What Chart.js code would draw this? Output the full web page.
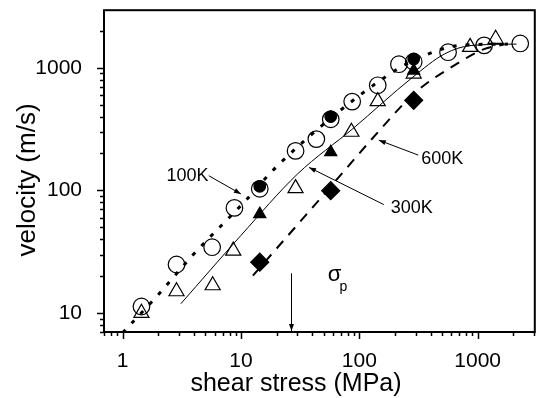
<!DOCTYPE html>
<html>
<head>
<meta charset="utf-8">
<script src="https://cdn.jsdelivr.net/npm/chart.js"></script>
<style>
  body { margin: 0; background: #fff; }
  canvas { display: block; }
</style>
</head>
<body>
<canvas id="myChart" width="545" height="398"></canvas>
<script>
// measured points (shear stress in MPa, velocity in m/s)
const openCircleX = [1.44, 2.85, 5.7, 8.8, 14.4, 28.9, 43.3, 57.3, 87, 143, 216, 288, 562, 1135, 2290];
const openCircleY = [11.3, 24.9, 34.4, 72, 103, 210, 262, 380, 530, 720, 1070, 1120, 1340, 1525, 1580];
const filledCircleX = [14.4, 57.3, 288];
const filledCircleY = [108, 400, 1180];
const openTriangleX = [1.44, 2.85, 5.76, 8.6, 28.9, 85.7, 143, 288, 863, 1419];
const openTriangleY = [10, 15, 16.8, 32.2, 104, 300, 533, 895, 1475, 1720];
const filledTriangleX = [14.4, 57.3, 288];
const filledTriangleY = [64, 205, 950];
const diamondX = [14.4, 57.3, 288];
const diamondY = [26, 99.5, 543];

// fitted curves
const fit100X = [1.0, 2.05, 3.88, 10.8, 21, 178, 360, 730, 1800];
const fit100Y = [6.9, 14.5, 29.4, 81.5, 164, 883, 1268, 1530, 1560];
const fit300X = [3.1, 10, 30, 88.5, 279, 527, 880, 2130];
const fit300Y = [11.9, 43, 136, 320, 830, 1300, 1520, 1560];
const fit600X = [12.6, 47.9, 147, 296, 680, 1130, 1660];
const fit600Y = [20.2, 88, 306, 627, 1090, 1420, 1550];

const xTicks = [1, 10, 100, 1000];
const yTicks = [10, 100, 1000];

// annotations, in data coordinates
const curveLabels = ['100K', '300K', '600K'];
const curveLabelAt = [[2.34, 131.7], [184, 72.3], [333, 181]];
const arrowFrom = [[5.34, 131.7], [161, 76.6], [315, 194]];
const arrowTo = [[9.98, 93.5], [37.6, 154], [146, 257]];
const sigmaP = 26.3;

const FONT = "'Liberation Sans', Arial, Helvetica, sans-serif";
Chart.defaults.color = '#000';
Chart.defaults.font.family = FONT;

function pts(xs, ys) {
    return xs.map((x, i) => ({x: x, y: ys[i]}));
}

function marker(xs, ys, style, r, filled) {
    return {
        data: pts(xs, ys),
        pointStyle: style,
        pointRadius: r,
        pointBorderWidth: 1.2,
        pointBorderColor: '#000',
        pointBackgroundColor: filled ? '#000' : 'rgba(0,0,0,0)',
        showLine: false
    };
}

function curve(xs, ys, width, dash) {
    return {
        data: pts(xs, ys),
        showLine: true,
        borderColor: '#000',
        borderWidth: width,
        borderDash: dash,
        pointRadius: 0,
        cubicInterpolationMode: 'monotone'
    };
}

function isDecade(v) {
    const l = Math.log10(v);
    return Math.abs(l - Math.round(l)) < 1e-9;
}

function arrow(ctx, x1, y1, x2, y2) {
    ctx.beginPath();
    ctx.moveTo(x1, y1);
    ctx.lineTo(x2, y2);
    ctx.stroke();
    const a = Math.atan2(y2 - y1, x2 - x1);
    const len = 7, half = 2.5;
    ctx.beginPath();
    ctx.moveTo(x2, y2);
    ctx.lineTo(x2 - len * Math.cos(a) + half * Math.sin(a), y2 - len * Math.sin(a) - half * Math.cos(a));
    ctx.lineTo(x2 - len * Math.cos(a) - half * Math.sin(a), y2 - len * Math.sin(a) + half * Math.cos(a));
    ctx.closePath();
    ctx.fill();
}

const extras = {
    id: 'extras',
    afterDraw(chart) {
        const {ctx, chartArea: a} = chart;
        const x = chart.scales.x, y = chart.scales.y;
        ctx.save();
        ctx.strokeStyle = '#000';
        ctx.fillStyle = '#000';

        // frame
        ctx.lineWidth = 2;
        ctx.strokeRect(a.left, a.top, a.right - a.left, a.bottom - a.top);

        // log ticks, outside
        ctx.lineWidth = 1.5;
        ctx.beginPath();
        for (let e = -1; e <= 3; e++) {
            for (let m = 1; m <= 9; m++) {
                const v = m * Math.pow(10, e);
                const len = m === 1 ? 7 : 4;
                if (v >= x.min && v <= x.max) {
                    const px = Math.round(x.getPixelForValue(v)) + 0.5;
                    ctx.moveTo(px, a.bottom);
                    ctx.lineTo(px, a.bottom + len);
                }
                if (v >= y.min && v <= y.max) {
                    const py = Math.round(y.getPixelForValue(v)) + 0.5;
                    ctx.moveTo(a.left, py);
                    ctx.lineTo(a.left - len, py);
                }
            }
        }
        ctx.stroke();

        // axis titles
        ctx.textAlign = 'center';
        ctx.textBaseline = 'middle';
        ctx.font = '25px ' + FONT;
        ctx.fillText('shear stress (MPa)', 296, 384);
        ctx.save();
        ctx.translate(28, 180);
        ctx.rotate(-Math.PI / 2);
        ctx.font = '26px ' + FONT;
        ctx.fillText('velocity (m/s)', 0, 0);
        ctx.restore();

        // curve labels with arrows
        ctx.lineWidth = 1;
        ctx.font = '18px ' + FONT;
        ctx.textAlign = 'left';
        curveLabels.forEach((t, i) => {
            ctx.fillText(t, x.getPixelForValue(curveLabelAt[i][0]), y.getPixelForValue(curveLabelAt[i][1]));
            arrow(ctx,
                x.getPixelForValue(arrowFrom[i][0]), y.getPixelForValue(arrowFrom[i][1]),
                x.getPixelForValue(arrowTo[i][0]), y.getPixelForValue(arrowTo[i][1]));
        });

        // sigma_p marker
        const sx = Math.round(x.getPixelForValue(sigmaP)) + 0.5;
        arrow(ctx, sx, y.getPixelForValue(21.1), sx, a.bottom - 1);
        ctx.font = '22px ' + FONT;
        ctx.fillText('σ', x.getPixelForValue(54.1), y.getPixelForValue(20.5));
        ctx.font = '14px ' + FONT;
        ctx.fillText('p', x.getPixelForValue(68), y.getPixelForValue(16.2));
        ctx.restore();
    }
};

new Chart(
    document.getElementById('myChart').getContext('2d'), {
        type: 'scatter',
        data: {
            datasets: [
                marker(diamondX, diamondY, 'rectRot', 9, true),
                marker(filledTriangleX, filledTriangleY, 'triangle', 7, true),
                marker(openTriangleX, openTriangleY, 'triangle', 8.7, false),
                marker(filledCircleX, filledCircleY, 'circle', 5.8, true),
                marker(openCircleX, openCircleY, 'circle', 8.3, false),
                curve(fit100X, fit100Y, 3, [4, 9]),
                curve(fit300X, fit300Y, 1, []),
                curve(fit600X, fit600Y, 2, [10, 8])
            ]
        },
        options: {
            responsive: false,
            animation: false,
            layout: {
                padding: {top: 9, right: 4, left: 0, bottom: 0}
            },
            plugins: {
                legend: {display: false},
                tooltip: {enabled: false}
            },
            scales: {
                x: {
                    type: 'logarithmic',
                    min: 0.695,
                    max: 3040,
                    grid: {display: false},
                    border: {display: false},
                    ticks: {
                        autoSkip: false,
                        maxRotation: 0,
                        padding: 9,
                        font: {size: 21},
                        callback: v => xTicks.includes(v) || isDecade(v) ? String(v) : ''
                    },
                    afterFit(s) {
                        s.height = 66;
                        s.paddingLeft = 0;
                        s.paddingRight = 0;
                    }
                },
                y: {
                    type: 'logarithmic',
                    min: 7,
                    max: 2950,
                    grid: {display: false},
                    border: {display: false},
                    ticks: {
                        autoSkip: false,
                        padding: 14,
                        font: {size: 21},
                        callback: v => yTicks.includes(v) || (isDecade(v) && v >= 10) ? String(v) : ''
                    },
                    afterFit(s) {
                        s.width = 104;
                        s.paddingTop = 0;
                        s.paddingBottom = 0;
                    }
                }
            }
        },
        plugins: [extras]
    }
);
</script>
</body>
</html>
